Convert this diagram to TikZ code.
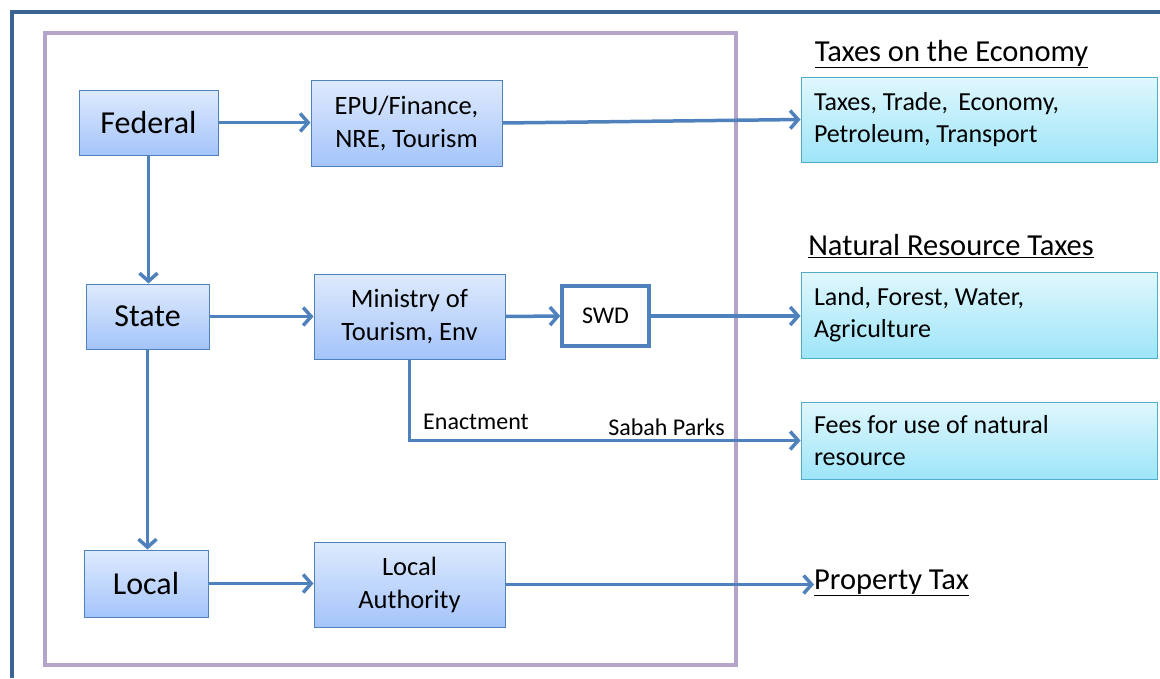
\documentclass[tikz,border=0pt]{standalone}
\usepackage{fontspec}
\setmainfont{Carlito}
\usetikzlibrary{arrows.meta,positioning}

\definecolor{framedark}{RGB}{60,100,145}
\definecolor{framepurple}{RGB}{180,164,202}
\definecolor{flowblue}{RGB}{79,129,189}
\definecolor{boxtop}{RGB}{222,234,253}
\definecolor{boxbottom}{RGB}{164,196,250}
\definecolor{cyantop}{RGB}{224,247,253}
\definecolor{cyanbottom}{RGB}{158,229,249}
\definecolor{cyanedge}{RGB}{80,172,200}

\tikzset{
  level/.style={draw=flowblue, line width=1pt, top color=boxtop, bottom color=boxbottom,
    inner sep=0pt, align=center, font=\fontsize{32}{38}\selectfont},
  agency/.style={level, font=\fontsize{26.5}{33}\selectfont},
  whitebox/.style={draw=flowblue, line width=3.5pt, fill=white, inner sep=0pt,
    font=\fontsize{24}{28}\selectfont},
  taxbox/.style={draw=cyanedge, line width=1pt, top color=cyantop, bottom color=cyanbottom,
    minimum width=356pt, text width=330pt, inner sep=0pt, align=flush left,
    font=\fontsize{26}{32}\selectfont},
  heading/.style={inner sep=0pt, font=\fontsize{30.5}{34}\selectfont},
  flowlabel/.style={inner sep=0pt, font=\fontsize{24}{28}\selectfont},
  flow/.style={draw=flowblue, line width=3.5pt, -{Straight Barb[length=8pt,width=18pt]}},
}

\begin{document}
\begin{tikzpicture}[x=1pt,y=-1pt]
\useasboundingbox (0,0) rectangle (1160,678);

% outer frame and inner grouping box
\draw[framedark, line width=3.5pt] (12,678) -- (12,12) -- (1162,12);
\draw[framepurple, line width=3.5pt] (45,33) rectangle (736,665);

% government levels
\node[level, minimum width=139pt, minimum height=65pt] (fed)   at (148.5,122.5) {Federal};
\node[level, minimum width=123pt, minimum height=65pt] (state) at (147.5,316.5) {State};
\node[level, minimum width=124pt, minimum height=67pt] (local) at (146,583.5)   {Local};

% agencies
\node[agency, minimum width=191pt, minimum height=86pt] (epu) at (406.5,123)   {EPU/Finance,\\NRE, Tourism};
\node[agency, minimum width=191pt, minimum height=85pt] (min) at (409.5,316.5) {Ministry of\\Tourism, Env};
\node[agency, minimum width=191pt, minimum height=85pt] (la)  at (409.5,584.5) {Local\\Authority};
\node[whitebox, minimum width=87pt, minimum height=60pt] (swd) at (605.5,316) {SWD};

% tax categories
\node[heading] (hecon) at (951.5,54)  {\underline{Taxes on the Economy}};
\node[heading] (hnat)  at (951,246)   {\underline{Natural Resource Taxes}};
\node[heading, anchor=west] (prop) at (814,583) {\underline{Property Tax}};

\node[taxbox, minimum height=85pt] (econ) at (979,119.5) {Taxes, Trade,\, Economy,\\Petroleum, Transport};
\node[taxbox, minimum height=86pt] (nat)  at (979,315)   {Land, Forest, Water,\\Agriculture};
\node[taxbox, minimum height=77pt] (fees) at (979,440.5) {Fees for use of natural\\resource};

% flows
\draw[flow] (fed.east) -- (epu.west |- fed.east);
\draw[flow] (epu.east) -- (econ.west);
\draw[flow] (fed.south) -- (fed.south |- state.north);
\draw[flow] (state.east) -- (min.west |- state.east);
\draw[flow] (min.east) -- (swd.west);
\draw[flow] (swd.east) -- (nat.west |- swd.east);
\draw[flow] (min.south) |- (fees.west);
\draw[flow] (state.south) -- (state.south |- local.north);
\draw[flow] (local.east) -- (la.west |- local.east);
\draw[flow] (la.east) -- (prop.west |- la.east);

\node[flowlabel, anchor=west] (enact) at (423,422) {Enactment};
\node[flowlabel, anchor=east] (sabah) at (725,427) {Sabah Parks};
\end{tikzpicture}
\end{document}
